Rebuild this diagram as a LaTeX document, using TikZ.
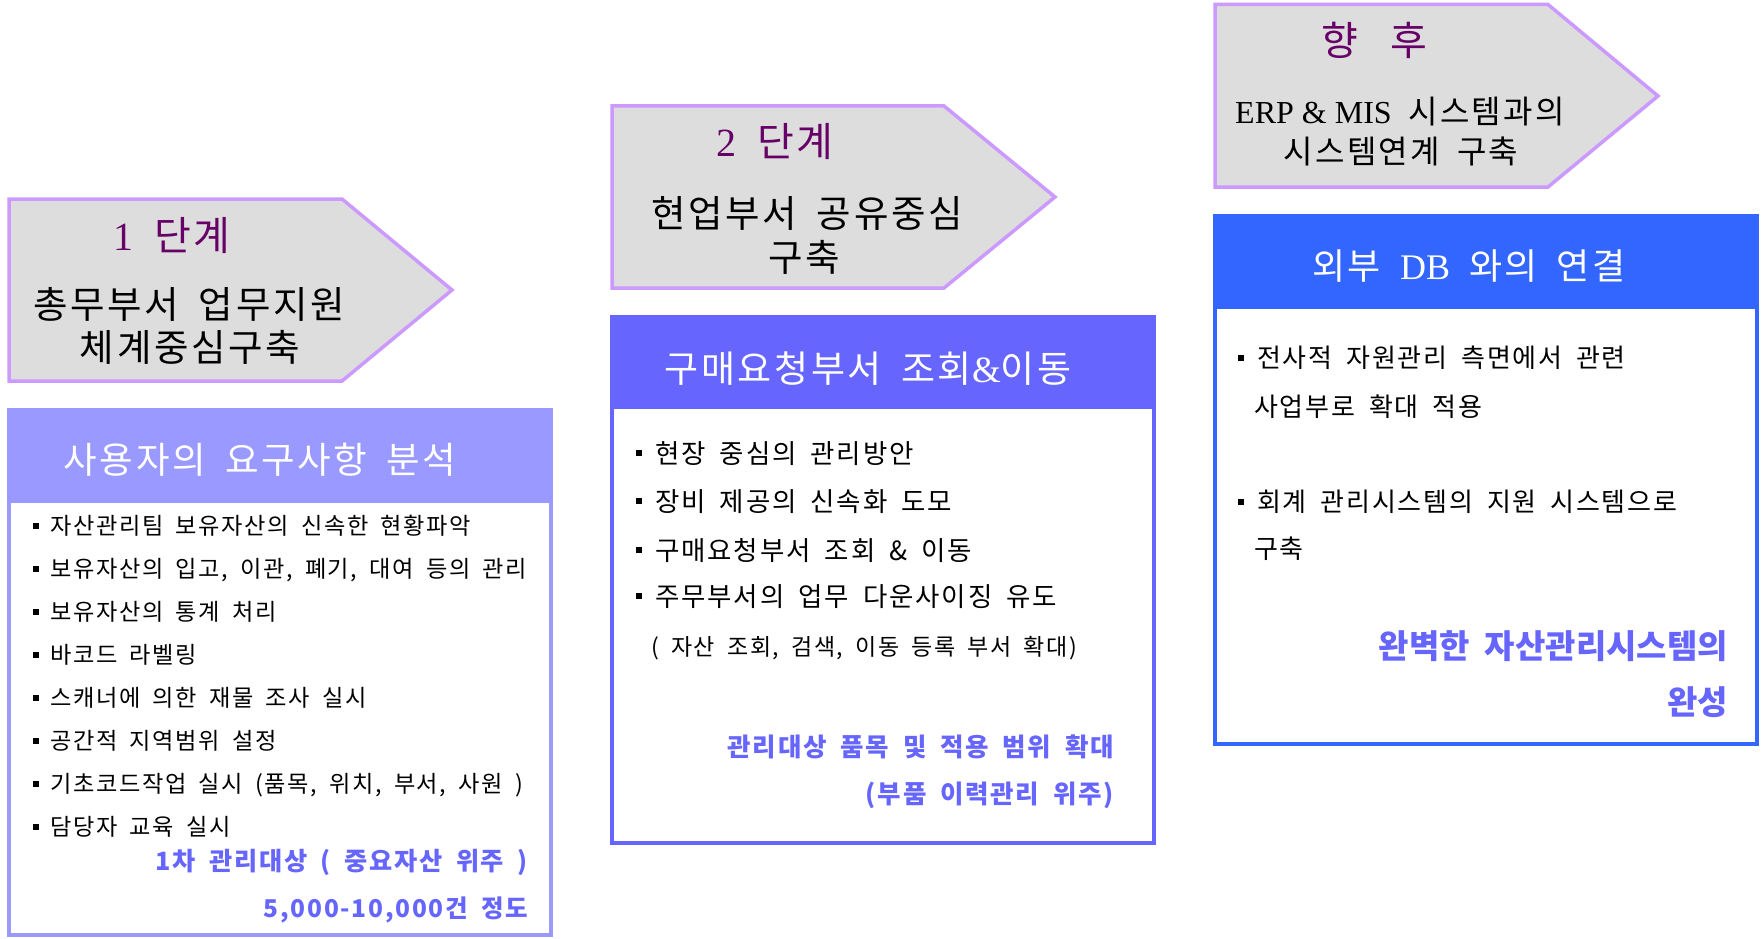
\documentclass[tikz,border=0pt]{standalone}
\usepackage{fontspec}
\setmainfont{Noto Sans CJK KR}[WordSpace=1.8, LetterSpace=7]
\newfontfamily\krtight{Noto Sans CJK KR}[WordSpace=2]
\newfontfamily\lat{Liberation Serif}
\newcommand\fsz[1]{\fontsize{#1}{#1}\selectfont}
\definecolor{arrowfill}{HTML}{DDDDDD}
\definecolor{arrowline}{HTML}{CC99FF}
\definecolor{titlepurple}{HTML}{660066}
\definecolor{boxA}{HTML}{9999FF}
\definecolor{boxB}{HTML}{6666FF}
\definecolor{boxC}{HTML}{3366FF}
\definecolor{bluetext}{HTML}{6666FF}
\tikzset{
  stage/.style={fill=arrowfill, draw=arrowline, line width=3.5pt, line join=miter},
  ttl/.style={anchor=base, inner sep=0pt, text=titlepurple, font=\fsz{40}},
  sub/.style={anchor=base, inner sep=0pt, font=\fsz{#1}},
  hdr/.style={anchor=base, inner sep=0pt, text=white, font=\fsz{#1}},
  item/.style={anchor=base west, inner sep=0pt, font=\fsz{#1}},
  bul/.style={fill=black, inner sep=0pt, minimum size=6pt},
  note/.style={anchor=base east, inner sep=0pt, text=bluetext, font=\bfseries\fsz{#1}}
}
\begin{document}
\begin{tikzpicture}[x=1pt,y=-1pt]
\useasboundingbox (0,0) rectangle (1763,939);

% ---------- stage arrows ----------
\draw[stage] (9,199) -- (342,199) -- (452,290) -- (342,381) -- (9,381) -- cycle;
\node[ttl] (t1) at (172,250) {{\lat 1} 단계};
\node[sub=37.5] (s1a) at (189,318) {총무부서 업무지원};
\node[sub=37.5] (s1b) at (190,361) {체계중심구축};

\draw[stage] (612,106) -- (944,106) -- (1055,197) -- (944,288) -- (612,288) -- cycle;
\node[ttl] (t2) at (775,156) {{\lat 2} 단계};
\node[sub=37.5] (s2a) at (807,227) {현업부서 공유중심};
\node[sub=37.5] (s2b) at (804,271) {구축};

\draw[stage] (1215,4.5) -- (1548,4.5) -- (1658,96) -- (1548,187) -- (1215,187) -- cycle;
\node[ttl] (t3) at (1374,56) {향\hspace{0.8em}후};
\node[sub=32] (s3a) at (1400,124) {{\lat ERP \& MIS} 시스템과의};
\node[sub=32] (s3b) at (1401,163) {시스템연계 구축};

% ---------- box 1 ----------
\fill[white] (9,410) rectangle (551,935);
\fill[boxA] (9,410) rectangle (551,503);
\draw[boxA, line width=4pt] (9,410) rectangle (551,935);
\node[hdr=36.5] (h1) at (260,473) {사용자의 요구사항 분석};
\foreach \i/\y/\t in {1/526/자산관리팀 보유자산의 신속한 현황파악,
                      2/569/{보유자산의 입고, 이관, 폐기, 대여 등의 관리},
                      3/612/보유자산의 통계 처리,
                      4/655/바코드 라벨링,
                      5/698/스캐너에 의한 재물 조사 실시,
                      6/741/공간적 지역범위 설정,
                      7/784/{기초코드작업 실시 (품목, 위치, 부서, 사원 )},
                      8/827/담당자 교육 실시}{
  \node[bul] (ba\i) at (36,\y) {};
  \node[item=23.2] (ia\i) at (50,\y+8.8) {\t};
}
\node[note=25.2] (na1) at (528,870.5) {1차 관리대상 ( 중요자산 위주 )};
\node[note=24.5] (na2) at (528,917.5) {5,000-10,000건 정도};

% ---------- box 2 ----------
\fill[white] (612,317) rectangle (1154,843);
\fill[boxB] (612,317) rectangle (1154,409);
\draw[boxB, line width=4pt] (612,317) rectangle (1154,843);
\node[hdr=37] (h2) at (868,382) {구매요청부서 조회{\lat\&}이동};
\foreach \i/\y/\t in {1/453/현장 중심의 관리방안,
                      2/501/장비 제공의 신속화 도모,
                      3/550/구매요청부서 조회 \& 이동,
                      4/596/주무부서의 업무 다운사이징 유도}{
  \node[bul] (bb\i) at (638.5,\y) {};
  \node[item=26.5] (ib\i) at (655,\y+10) {\t};
}
\node[item=23] (ib5) at (651,655) {( 자산 조회, 검색, 이동 등록 부서 확대)};
\node[note=25.5] (nb1) at (1114,756.5) {관리대상 품목 및 적용 범위 확대};
\node[note=25.5] (nb2) at (1114,803.5) {(부품 이력관리 위주)};

% ---------- box 3 ----------
\fill[white] (1215,216) rectangle (1757,744);
\fill[boxC] (1215,216) rectangle (1757,309);
\draw[boxC, line width=4pt] (1215,216) rectangle (1757,744);
\node[hdr=36] (h3) at (1469,279) {외부 {\lat DB} 와의 연결};
\node[bul] (bc1) at (1241,358) {};
\node[item=26] (ic1) at (1257,367.8) {전사적 자원관리 측면에서 관련};
\node[item=26] (ic2) at (1254,416.8) {사업부로 확대 적용};
\node[bul] (bc2) at (1241,502) {};
\node[item=26] (ic3) at (1257,511.8) {회계 관리시스템의 지원 시스템으로};
\node[item=26] (ic4) at (1254,558.8) {구축};
\node[note=33, font=\krtight\bfseries\fsz{33}] (nc1) at (1728,658.5) {완벽한 자산관리시스템의};
\node[note=33, font=\krtight\bfseries\fsz{33}] (nc2) at (1728,714.5) {완성};
\end{tikzpicture}
\end{document}
